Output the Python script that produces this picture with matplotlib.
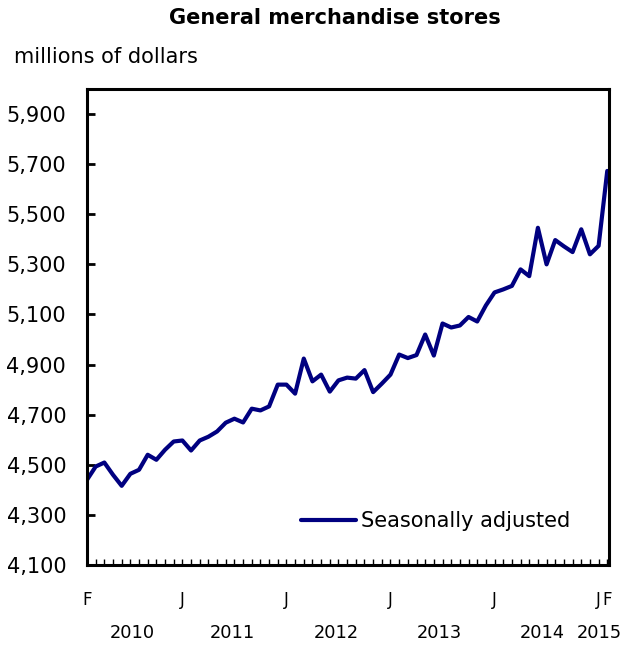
#!/usr/bin/env python3
import matplotlib
matplotlib.use("Agg")
import matplotlib.pyplot as plt
import matplotlib.transforms as mtransforms
import numpy as np

# monthly sales, Feb 2010 .. Feb 2015 (millions of dollars)
sales = [4440, 4493, 4509, 4460, 4416, 4464, 4480, 4540, 4520, 4560, 4593,
         4597, 4557, 4597, 4612, 4633, 4668, 4684, 4669, 4724, 4717, 4733,
         4820, 4820, 4784, 4924, 4833, 4860, 4792, 4837, 4848, 4844, 4878,
         4790, 4824, 4860, 4940, 4926, 4938, 5020, 4936, 5064, 5048, 5056,
         5090, 5072, 5136, 5188, 5200, 5214, 5280, 5253, 5446, 5300, 5397,
         5372, 5349, 5440, 5340, 5374, 5673]
month_ticks = [0, 11, 23, 35, 47, 59, 60]
month_labels = ["F", "J", "J", "J", "J", "J", "F"]
year_pos = [5.2, 16.8, 28.7, 40.6, 52.5, 59.1]
year_labels = ["2010", "2011", "2012", "2013", "2014", "2015"]
yticks = list(range(4100, 6000, 200))

plt.rcParams['font.family'] = ['DejaVu Sans']

fig = plt.figure(figsize=(6.24, 6.49), dpi=100)
ax = fig.add_axes([87/624, 1-565/649, 522/624, 476/649])

x = np.arange(len(sales))
ax.plot(x, sales, color="#000080", lw=3.0, solid_capstyle="round",
        solid_joinstyle="round", label="Seasonally adjusted")

ax.set_xlim(0, 60.2)
ax.set_ylim(4100, 6000)
ax.set_yticks(yticks)
ax.set_yticklabels([f"{v:,}" for v in yticks], fontsize=15)
ax.tick_params(axis="y", direction="in", length=6, width=2, pad=15)

ax.set_xticks(x, minor=True)
ax.set_xticks(month_ticks)
ax.set_xticklabels(month_labels, fontsize=12)
ax.tick_params(axis="x", which="both", direction="in", length=4, width=1.0, pad=19)

for s in ax.spines.values():
  s.set_linewidth(2.2)
  s.set_color("black")

trans = mtransforms.blended_transform_factory(ax.transData, ax.transAxes)
for p, lab in zip(year_pos, year_labels):
  ax.text(p, -0.143, lab, transform=trans, ha="center", va="center", fontsize=12.8)

fig.text(335/624, 1-18/649, "General merchandise stores", ha="center", va="center",
         fontsize=15, fontweight="bold")
fig.text(14/624, 1-57/649, "millions of dollars", ha="left", va="center", fontsize=15)

ax.legend(loc="center right", bbox_to_anchor=(0.925, 0.092), frameon=False,
          fontsize=15, handlelength=2.65, handletextpad=0.2, borderpad=0,
          borderaxespad=0)

fig.savefig("out.png", dpi=100)
